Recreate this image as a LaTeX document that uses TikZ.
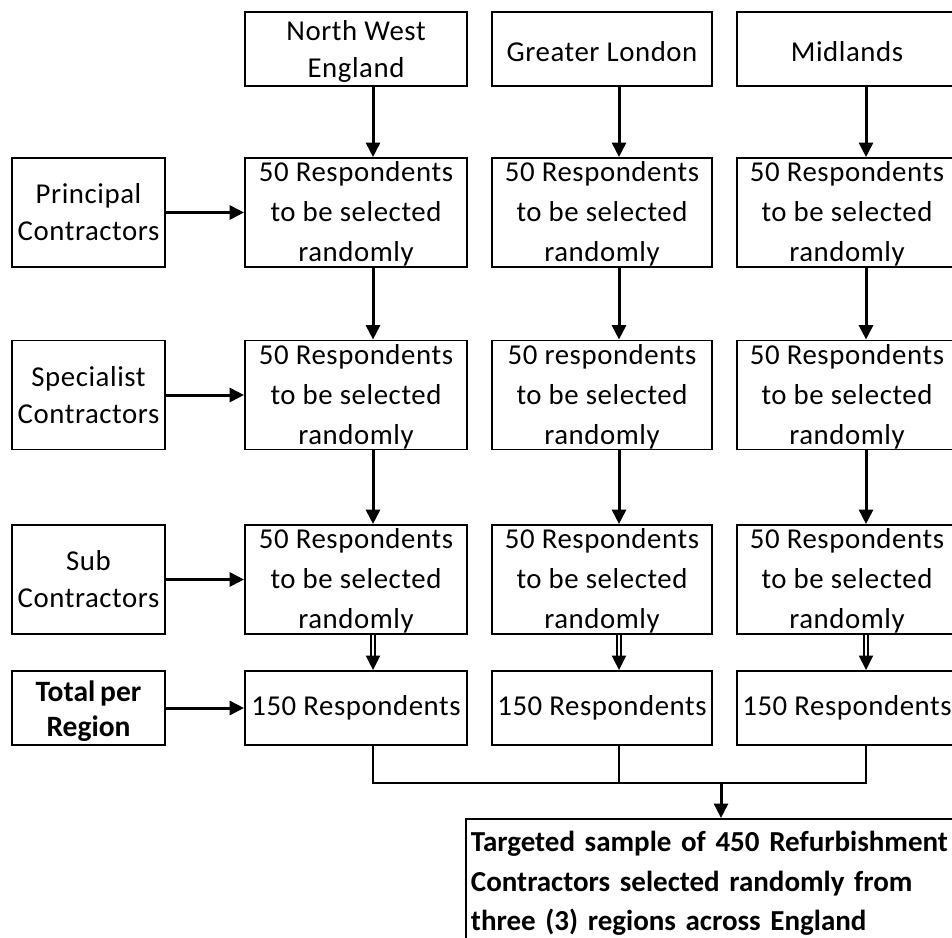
\documentclass[tikz,border=0pt]{standalone}
\usepackage{fontspec}
\setmainfont{Carlito}
\newfontfamily\spfont{Carlito}[LetterSpace=2]
\newfontfamily\bdfont{Carlito}[WordSpace=0.72]
\usetikzlibrary{arrows.meta}
\begin{document}
\begin{tikzpicture}[x=0.02cm,y=-0.02cm,
  box/.style={draw, line width=1.1pt, inner sep=0pt, align=center},
  fthree/.style={font=\spfont\fontsize{16.4pt}{22.7pt}\selectfont},
  ftwo/.style={font=\spfont\fontsize{16.4pt}{21pt}\selectfont},
  three/.style={label={[fthree, align=center, inner sep=0pt, yshift=-0.03cm]center:#1}},
  wide/.style={minimum width=4.44cm},
  mid/.style={minimum width=4.4cm},
  side/.style={minimum width=3.06cm},
  tall/.style={minimum height=2.18cm},
  short/.style={minimum height=1.48cm},
  arr/.style={line width=1.7pt, -{Triangle[length=0.29cm,width=0.28cm]}},
  dbl/.style={double, double distance=1.5pt, line width=1.1pt, -{Triangle[length=0.29cm,width=0.28cm]}},
  ln/.style={line width=1.1pt}]
\useasboundingbox (0,0) rectangle (952,937);
\clip (0,0) rectangle (952,937);
% column arrow positions
\coordinate (a1) at (373,0);
\coordinate (a2) at (619,0);
\coordinate (a3) at (866,0);
\coordinate (a4) at (721,0);
\coordinate (bar) at (0,783);
% top row
\node[box,wide,short,label={[ftwo,align=center,inner sep=0pt,yshift=-0.05cm]center:North West\\England}] (t1) at (356,49) {};
\node[box,mid,short,label={[ftwo,inner sep=0pt,yshift=-0.05cm]center:Greater London}] (t2) at (602,49) {};
\node[box,mid,short,label={[ftwo,inner sep=0pt,yshift=-0.05cm]center:Midlands}] (t3) at (847,49) {};
% row 2
\node[box,wide,tall,three={50 Respondents\\to be selected\\randomly}] (r2c1) at (356,212.5) {};
\node[box,mid,tall,three={50 Respondents\\to be selected\\randomly}] (r2c2) at (602,212.5) {};
\node[box,mid,tall,three={50 Respondents\\to be selected\\randomly}] (r2c3) at (847,212.5) {};
% row 3
\node[box,wide,tall,three={50 Respondents\\to be selected\\randomly}] (r3c1) at (356,395) {};
\node[box,mid,tall,three={50 respondents\\to be selected\\randomly}] (r3c2) at (602,395) {};
\node[box,mid,tall,three={50 Respondents\\to be selected\\randomly}] (r3c3) at (847,395) {};
% row 4
\node[box,wide,tall,three={50 Respondents\\to be selected\\randomly}] (r4c1) at (356,579.5) {};
\node[box,mid,tall,three={50 Respondents\\to be selected\\randomly}] (r4c2) at (602,579.5) {};
\node[box,mid,tall,three={50 Respondents\\to be selected\\randomly}] (r4c3) at (847,579.5) {};
% row 5
\node[box,fthree,wide,short] (r5c1) at (356,708) {150 Respondents};
\node[box,fthree,mid,short] (r5c2) at (602,708) {150 Respondents};
\node[box,fthree,mid,short] (r5c3) at (847,708) {150 Respondents};
% left column
\node[box,ftwo,side,tall] (l1) at (88.5,212.5) {Principal\\Contractors};
\node[box,ftwo,side,tall] (l2) at (88.5,395) {Specialist\\Contractors};
\node[box,ftwo,side,tall] (l3) at (88.5,579.5) {Sub\\Contractors};
\node[box,side,short,label={[align=center,inner sep=0pt,yshift=-0.07cm,font=\bdfont\fontsize{16.8pt}{20pt}\selectfont\bfseries]center:Total per\\Region}] (l4) at (88.5,708) {};
% final box
\node[draw, line width=1.1pt, anchor=north west, inner xsep=0.1cm, inner ysep=0.24cm,
  text width=10cm, align=left, text depth=3cm,
  font=\bdfont\fontsize{16.5pt}{22.6pt}\selectfont\bfseries] (fin) at (465,818)
  {\mbox{Targeted sample of 450 Refurbishment}\\\mbox{Contractors selected randomly from}\\\mbox{three (3) regions across England}};
% horizontal arrows
\draw[arr] (l1.east) -- (r2c1.west);
\draw[arr] (l2.east) -- (r3c1.west);
\draw[arr] (l3.east) -- (r4c1.west);
\draw[arr] (l4.east) -- (r5c1.west);
% vertical arrows
\draw[arr] (t1.south -| a1) -- (r2c1.north -| a1);
\draw[arr] (t2.south -| a2) -- (r2c2.north -| a2);
\draw[arr] (t3.south -| a3) -- (r2c3.north -| a3);
\draw[arr] (r2c1.south -| a1) -- (r3c1.north -| a1);
\draw[arr] (r2c2.south -| a2) -- (r3c2.north -| a2);
\draw[arr] (r2c3.south -| a3) -- (r3c3.north -| a3);
\draw[arr] (r3c1.south -| a1) -- (r4c1.north -| a1);
\draw[arr] (r3c2.south -| a2) -- (r4c2.north -| a2);
\draw[arr] (r3c3.south -| a3) -- (r4c3.north -| a3);
\draw[dbl] (r4c1.south -| a1) -- (r5c1.north -| a1);
\draw[dbl] (r4c2.south -| a2) -- (r5c2.north -| a2);
\draw[dbl] (r4c3.south -| a3) -- (r5c3.north -| a3);
% bracket
\draw[ln] (r5c1.south -| a1) -- (a1 |- bar) -- (a3 |- bar) -- (r5c3.south -| a3);
\draw[ln] (r5c2.south -| a2) -- (a2 |- bar);
\draw[arr] (a4 |- bar) -- (fin.north -| a4);
\end{tikzpicture}
\end{document}
